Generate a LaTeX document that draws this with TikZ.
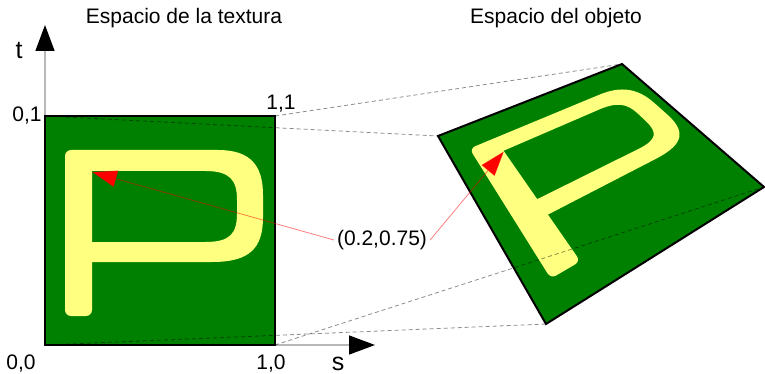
\documentclass[tikz,border=0pt]{standalone}
\usepackage{fontspec}
\setmainfont{Liberation Sans}
\usetikzlibrary{arrows.meta}
\definecolor{texgreen}{RGB}{0,128,0}
\definecolor{pyellow}{RGB}{255,255,128}
\tikzset{
  plane/.style={fill=texgreen},
  rim/.style={draw=black, line width=2pt},
  letter/.style={fill=pyellow, even odd rule},
  axis/.style={draw=black!28, line width=1.5pt, -{Triangle[length=26pt,width=19pt,black]}},
  link/.style={draw=black, draw opacity=0.45, line width=0.8pt, dash pattern=on 4pt off 3pt},
  pointer/.style={draw=red, draw opacity=0.5, line width=0.8pt, -{Triangle[length=25pt,width=17pt,color=red,fill=red]}},
  caption/.style={anchor=base, inner sep=0pt, font=\fontsize{21}{25}\selectfont},
  corner/.style={anchor=base, inner sep=0pt, font=\fontsize{21}{25}\selectfont},
  axislabel/.style={anchor=base, inner sep=0pt, font=\fontsize{25}{30}\selectfont}
}
\newcommand\letterP{%
  ({mx(65,230)},{my(65,230)}) [rounded corners=6pt]
  -- ({mx(65,150)},{my(65,150)})
  -- ({mx(212,150)},{my(212,150)}) [sharp corners]
  .. controls ({mx(250,150)},{my(250,150)}) and ({mx(263,165)},{my(263,165)}) .. ({mx(263,195)},{my(263,195)})
  -- ({mx(263,217)},{my(263,217)})
  .. controls ({mx(263,248)},{my(263,248)}) and ({mx(250,262)},{my(250,262)}) .. ({mx(212,262)},{my(212,262)})
  -- ({mx(92,262)},{my(92,262)}) [rounded corners=6pt]
  -- ({mx(92,316)},{my(92,316)})
  -- ({mx(65,316)},{my(65,316)}) -- cycle [sharp corners]
  ({mx(92,171)},{my(92,171)})
  -- ({mx(205,171)},{my(205,171)})
  .. controls ({mx(230,171)},{my(230,171)}) and ({mx(237,180)},{my(237,180)}) .. ({mx(237,200)},{my(237,200)})
  -- ({mx(237,213)},{my(237,213)})
  .. controls ({mx(237,234)},{my(237,234)}) and ({mx(230,242)},{my(230,242)}) .. ({mx(205,242)},{my(205,242)})
  -- ({mx(92,242)},{my(92,242)}) -- cycle
}

\begin{document}
\begin{tikzpicture}[x=1pt, y=-1pt,
  declare function={su(\x)=(\x-45)/230; tv(\y)=(345-\y)/229;
    ox(\x,\y)=(439.19*su(\x)+70.8*tv(\y)+546)/(0.28951*su(\x)+0.40821*tv(\y)+1);
    oy(\x,\y)=(-82.86*su(\x)-132.48*tv(\y)+324)/(0.28951*su(\x)+0.40821*tv(\y)+1);}]
\useasboundingbox (0,0) rectangle (765,374);

\coordinate (t00) at (45,345);
\coordinate (t10) at (275,345);
\coordinate (t11) at (275,116);
\coordinate (t01) at (45,116);
\coordinate (o00) at ({ox(45,345)},{oy(45,345)});
\coordinate (o10) at ({ox(275,345)},{oy(275,345)});
\coordinate (o11) at ({ox(275,116)},{oy(275,116)});
\coordinate (o01) at ({ox(45,116)},{oy(45,116)});
\coordinate (sEnd) at (375,345);
\coordinate (tEnd) at (45,25);
\coordinate (texpt) at (92,172);
\coordinate (objpt) at ({ox(92,172)},{oy(92,172)});

\draw[axis] (t00) -- (tEnd);
\draw[axis] (t00) -- (sEnd);

% texture space
\fill[plane] (t00) -- (t10) -- (t11) -- (t01) -- cycle;
\begin{scope}[declare function={mx(\x,\y)=\x; my(\x,\y)=\y;}]
\fill[letter] \letterP;
\end{scope}

% object space
\fill[plane] (o00) -- (o10) -- (o11) -- (o01) -- cycle;
\begin{scope}[declare function={mx(\x,\y)=ox(\x,\y); my(\x,\y)=oy(\x,\y);}]
\fill[letter] \letterP;
\end{scope}

\draw[link] (t00) -- (o00);
\draw[link] (t10) -- (o10);
\draw[link] (t11) -- (o11);
\draw[link] (t01) -- (o01);

\draw[rim] (t00) -- (t10) -- (t11) -- (t01) -- cycle;
\draw[rim] (o00) -- (o10) -- (o11) -- (o01) -- cycle;

\node[corner] (c01) at (27,122) {0,1};
\node[corner] (c11) at (281,110) {1,1};
\node[corner] (c00) at (21,369) {0,0};
\node[corner] (c10) at (271,369) {1,0};
\node[axislabel] (tlab) at (19,59) {t};
\node[axislabel] (slab) at (338,370) {s};
\node[caption] (texcap) at (184,24) {Espacio de la textura};
\node[caption] (objcap) at (556,24) {Espacio del objeto};

\node[corner, anchor=center, inner sep=3pt] (val) at (382,240) {(0.2,0.75)};
\draw[pointer] (val.west) -- (texpt);
\draw[pointer] (val.east) -- (objpt);
\end{tikzpicture}
\end{document}
